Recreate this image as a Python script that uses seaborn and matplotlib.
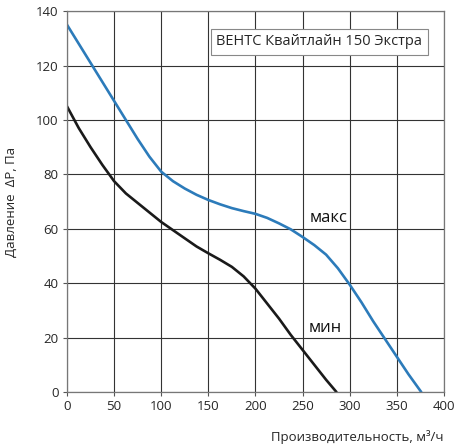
import matplotlib
matplotlib.use("Agg")
import matplotlib.pyplot as plt
import seaborn as sns
import pandas as pd

# max speed curve
max_q = [0, 12.5, 25, 37.5, 50, 62.5, 75, 87.5, 100, 112.5, 125, 137.5, 150, 162.5,
         175, 187.5, 200, 212.5, 225, 237.5, 250, 262.5, 275, 287.5, 300, 312.5,
         325, 337.5, 350, 362.5, 376]
max_p = [135, 128, 121, 114, 107, 100, 93, 86.5, 81, 77.5, 74.8, 72.5, 70.6, 69,
         67.6, 66.5, 65.5, 64, 62, 59.8, 57, 54, 50.5, 45.5, 39.5, 33,
         26, 19.5, 13, 6.5, 0]

# min speed curve
min_q = [0, 12.5, 25, 37.5, 50, 62.5, 75, 87.5, 100, 112.5, 125, 137.5, 150, 162.5,
         175, 187.5, 200, 212.5, 225, 237.5, 250, 262.5, 275, 286]
min_p = [105, 97, 90, 83.5, 77.5, 73, 69.5, 66, 62.5, 59.5, 56.5, 53.5, 51, 48.6,
         46, 42.5, 38, 32.5, 27, 21, 15.5, 10, 4.5, 0]

title = "ВЕНТС Квайтлайн 150 Экстра"
x_ticks = [0, 50, 100, 150, 200, 250, 300, 350, 400]
y_ticks = [0, 20, 40, 60, 80, 100, 120, 140]

sns.set_style("white")
plt.rcParams['font.family'] = ['Open Sans', 'DejaVu Sans']

fig = plt.figure(figsize=(4.59, 4.47), dpi=100)
ax = fig.add_axes([0.146, 0.123, 0.821, 0.852])

df_max = pd.DataFrame({"q": max_q, "p": max_p})
df_min = pd.DataFrame({"q": min_q, "p": min_p})
sns.lineplot(data=df_max, x="q", y="p", ax=ax, color="#2c7bba", linewidth=1.9, sort=False)
sns.lineplot(data=df_min, x="q", y="p", ax=ax, color="#1a1a1a", linewidth=1.9, sort=False)

ax.set_xlim(0, 400)
ax.set_ylim(0, 140)
ax.set_xticks(x_ticks)
ax.set_yticks(y_ticks)
ax.grid(True, color="#333333", linewidth=0.8)
ax.set_axisbelow(True)
for s in ax.spines.values():
    s.set_color("#777777")
    s.set_linewidth(0.9)
ax.tick_params(axis="both", labelsize=9.5, length=3, direction="out", color="#555555",
               bottom=True, left=True, pad=3)

ax.set_xlabel("Производительность, м³/ч", fontsize=9.5, ha="right", x=1.0, labelpad=12)
ax.set_ylabel("Давление  ΔP, Па", fontsize=9.5, labelpad=13)

ax.text(268, 128.7, title, fontsize=10.5, ha="center", va="center",
        bbox=dict(boxstyle="square,pad=0.4", facecolor="white", edgecolor="#888888", linewidth=0.8))
ax.text(257, 64, "макс", fontsize=12, ha="left", va="center", color="#111111")
ax.text(256, 23.5, "мин", fontsize=12, ha="left", va="center", color="#111111")

fig.savefig("out.png", dpi=100)
